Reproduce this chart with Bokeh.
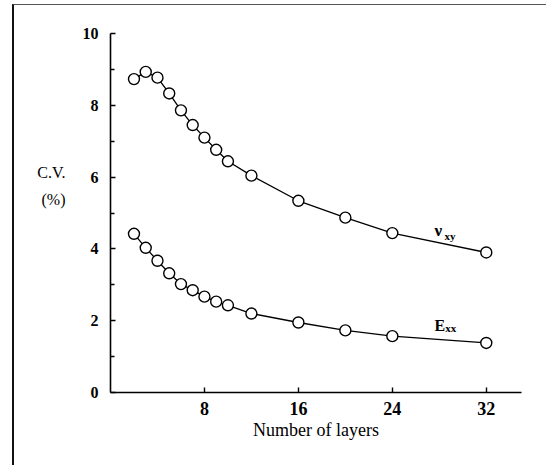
from bokeh.plotting import figure
from bokeh.models import FixedTicker, Label, Range1d
from bokeh.embed import file_html
from bokeh.resources import INLINE

layers = [2, 3, 4, 5, 6, 7, 8, 9, 10, 12, 16, 20, 24, 32]
nu_xy = [8.73, 8.93, 8.77, 8.33, 7.86, 7.45, 7.10, 6.76, 6.44, 6.04, 5.34, 4.87, 4.44, 3.90]
e_xx = [4.42, 4.03, 3.67, 3.32, 3.02, 2.85, 2.67, 2.53, 2.43, 2.20, 1.95, 1.73, 1.57, 1.38]
x_ticks = [8, 16, 24, 32]
y_ticks = [0, 2, 4, 6, 8, 10]
y_minor = [1, 3, 5, 7, 9]

SERIF = "Liberation Serif"

p = figure(width=534, height=461, output_backend="svg", toolbar_location=None,
           x_range=Range1d(0, 35), y_range=Range1d(0, 10),
           min_border_left=96, min_border_right=27, min_border_top=28, min_border_bottom=74)
p.styles = {"margin-left": "12px", "margin-top": "4px",
            "border-left": "2px solid #111", "border-top": "1px solid #555"}
p.outline_line_color = None
p.xgrid.visible = False
p.ygrid.visible = False
p.background_fill_color = "white"
p.border_fill_color = "white"

for ax in (p.xaxis[0], p.yaxis[0]):
    ax.axis_line_color = "black"
    ax.axis_line_width = 1.6
    ax.major_tick_line_color = "black"
    ax.major_tick_line_width = 1.4
    ax.minor_tick_line_color = "black"
    ax.minor_tick_line_width = 1.4
    ax.major_tick_out = 0
    ax.major_tick_in = 5
    ax.minor_tick_out = 0
    ax.major_label_text_font = SERIF
    ax.major_label_text_font_style = "bold"
    ax.major_label_text_color = "black"

p.xaxis.ticker = FixedTicker(ticks=x_ticks)
p.xaxis.minor_tick_in = 0
p.xaxis.major_label_text_font_size = "18px"
p.xaxis.major_label_standoff = 9
p.xaxis.axis_label = "Number of layers"
p.xaxis.axis_label_text_font = SERIF
p.xaxis.axis_label_text_font_style = "normal"
p.xaxis.axis_label_text_font_size = "18px"
p.xaxis.axis_label_text_color = "black"
p.xaxis.axis_label_standoff = 2

p.yaxis.ticker = FixedTicker(ticks=y_ticks, minor_ticks=y_minor)
p.yaxis.minor_tick_in = 4
p.yaxis.major_label_text_font_size = "16px"
p.yaxis.major_label_standoff = 12
p.yaxis.axis_label = "C.V.\n(%)\n \n "
p.yaxis.axis_label_orientation = "horizontal"
p.yaxis.axis_label_text_font = SERIF
p.yaxis.axis_label_text_font_style = "normal"
p.yaxis.axis_label_text_font_size = "16px"
p.yaxis.axis_label_text_color = "black"
p.yaxis.axis_label_text_align = "center"
p.yaxis.axis_label_text_line_height = 1.6
p.yaxis.axis_label_standoff = 14

for ys in (nu_xy, e_xx):
    p.line(layers, ys, line_color="black", line_width=1.3)
    p.scatter(layers, ys, marker="circle", size=11, fill_color="white",
              line_color="black", line_width=1.4)

def lab(x, y, t, size, style="normal"):
    p.add_layout(Label(x=x, y=y, text=t, text_font=SERIF, text_font_size=size,
                       text_font_style=style, text_color="black",
                       text_align="left", text_baseline="alphabetic"))

lab(27.6, 4.51, "ν", "17px", "bold")
lab(28.45, 4.37, "xy", "11px", "bold")
lab(27.6, 1.87, "E", "16px", "bold")
lab(28.5, 1.80, "xx", "11px", "bold")

open("out.html", "w").write(file_html(p, INLINE))
